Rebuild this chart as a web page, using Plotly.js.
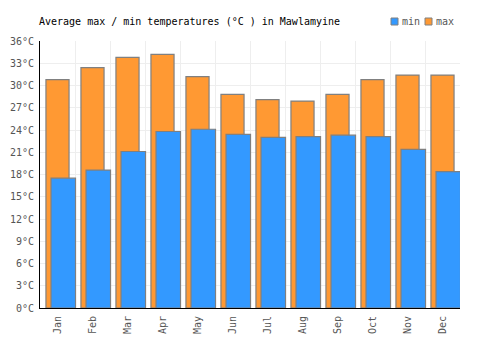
<!DOCTYPE html>
<html><head><meta charset="utf-8">
<script src="https://cdn.plot.ly/plotly-3.0.1.min.js"></script>
<style>html,body{margin:0;padding:0;background:#fff}#chart{width:500px;height:350px}</style>
</head><body><div id="chart"></div>
<script>
var months = ["Jan","Feb","Mar","Apr","May","Jun","Jul","Aug","Sep","Oct","Nov","Dec"];
var maxTemps = [30.8, 32.4, 33.8, 34.2, 31.2, 28.8, 28.1, 27.9, 28.8, 30.8, 31.4, 31.4];
var minTemps = [17.5, 18.6, 21.1, 23.8, 24.1, 23.4, 23.0, 23.1, 23.3, 23.1, 21.4, 18.4];
var yTicks = [0,3,6,9,12,15,18,21,24,27,30,33,36];
var yTickText = yTicks.map(function(v){return v + '°C';});
var seriesNames = ['min','max'];
var seriesColors = ['#3399FF','#FF9933'];

var font = "'DejaVu Sans Mono', 'Liberation Mono', monospace";
var traces = [
  {type:'bar', name:'max', x:months, y:maxTemps, width:0.66, offset:-0.33,
   marker:{color:seriesColors[1], line:{color:'#808080', width:1.2}}, hoverinfo:'skip'},
  {type:'bar', name:'min', x:months, y:minTemps, width:0.7, offset:-0.185,
   marker:{color:seriesColors[0], line:{color:'#808080', width:1.2}}, hoverinfo:'skip'}
];

var shapes = [], annotations = [];
var legX = [391, 425];
for (var i = 0; i < seriesNames.length; i++) {
  var x0 = (legX[i] - 40) / 420, x1 = (legX[i] + 7 - 40) / 420;
  var y0 = (308 - 25) / 267, y1 = (308 - 18) / 267;
  shapes.push({type:'rect', xref:'paper', yref:'paper', x0:x0, x1:x1, y0:y0, y1:y1,
    fillcolor:seriesColors[i], line:{color:'#808080', width:1}});
  annotations.push({xref:'paper', yref:'paper', x:(legX[i] + 9 - 40) / 420, y:(308 - 21) / 267,
    xanchor:'left', yanchor:'middle', text:seriesNames[i], showarrow:false,
    font:{family:font, size:10, color:'#555'}});
}

var layout = {
  width:500, height:350,
  margin:{l:40, r:40, t:41, b:42},
  paper_bgcolor:'#fff', plot_bgcolor:'#fff',
  barmode:'overlay',
  font:{family:font, size:10, color:'#555'},
  title:{text:'Average max / min temperatures (°C ) in Mawlamyine', font:{family:font, size:10, color:'#000'},
    x:0.078, xanchor:'left', xref:'container', y:(350-21)/350, yanchor:'middle', yref:'container'},
  showlegend:false,
  shapes:shapes, annotations:annotations,
  xaxis:{type:'category', tickson:'boundaries', showgrid:true, gridcolor:'#eeeeee', gridwidth:1,
    tickangle:-90, showline:true, linecolor:'#000', linewidth:1, ticks:'', mirror:false,
    ticklabelstandoff:3,
    tickfont:{family:font, size:10, color:'#555'}, range:[-0.5, 11.5]},
  yaxis:{range:[0,36], tickmode:'array', tickvals:yTicks, ticktext:yTickText, showgrid:true, gridcolor:'#eeeeee',
    showline:true, linecolor:'#000', linewidth:1, ticks:'', zeroline:false,
    ticklabelstandoff:3,
    tickfont:{family:font, size:10, color:'#555'}}
};
Plotly.newPlot('chart', traces, layout, {displayModeBar:false, staticPlot:true});
</script></body></html>
